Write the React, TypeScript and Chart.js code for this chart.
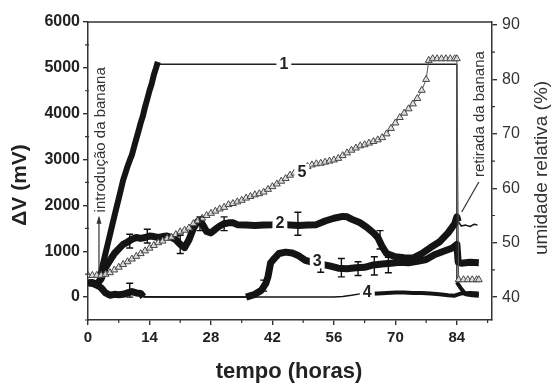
import React, { useEffect, useRef } from "react";
import { Chart, registerables } from "chart.js";
Chart.register(...registerables);

const FONT = '"Liberation Sans", Arial, Helvetica, sans-serif';

// axis ticks
const xTicks = [0, 14, 28, 42, 56, 70, 84];
const xMinorTicks = [7, 21, 35, 49, 63, 77, 91];
const yLeftTicks = [0, 1000, 2000, 3000, 4000, 5000, 6000];
const yLeftMinor = [-500, 500, 1500, 2500, 3500, 4500, 5500];
const yRightTicks = [40, 50, 60, 70, 80, 90];
const yRightMinor = [45, 55, 65, 75, 85];

// series 1 (rising, then saturated)
const s1RiseHours = [2.5, 3, 3.5, 4, 4.5, 5, 5.5, 6, 6.5, 7, 7.5, 8, 8.5, 9, 9.5, 10, 10.5, 11, 11.5, 12, 12.5, 13, 13.5, 14, 14.5, 15, 15.5, 15.9];
const s1RiseValues = [430, 560, 760, 960, 1160, 1360, 1560, 1760, 1960, 2150, 2350, 2550, 2700, 2850, 2980, 3100, 3280, 3450, 3620, 3800, 3950, 4150, 4320, 4500, 4650, 4850, 5000, 5130];
const s1SatHours = [15.9, 84, 84];
const s1SatValues = [5080, 5080, 320];
const s1AfterHours = [84, 85, 86, 87.5, 89];
const s1AfterValues = [320, 180, 60, 40, 30];

// series 2
const s2Hours = [0, 1, 2, 3, 4, 5, 6, 7, 8, 9, 10, 11, 12, 13, 14, 15, 16, 17, 18, 19, 20, 21, 22, 23, 24, 25, 26, 27, 28, 29, 30, 31, 32, 33, 34, 36, 38, 40, 42, 44, 46, 48, 50, 52, 54, 56, 58, 59, 60, 62, 63.5, 65, 66, 67, 68, 70, 72, 74, 76, 78, 80, 82, 83.5, 84, 84.3, 85, 86, 87, 88, 88.7];
const s2Values = [300, 320, 280, 400, 650, 800, 950, 1050, 1150, 1200, 1260, 1300, 1280, 1300, 1330, 1320, 1300, 1320, 1330, 1300, 1250, 1150, 1080, 1250, 1500, 1650, 1600, 1430, 1400, 1480, 1550, 1600, 1620, 1620, 1580, 1570, 1560, 1570, 1580, 1600, 1570, 1560, 1570, 1580, 1660, 1720, 1760, 1750, 1700, 1620, 1520, 1400, 1300, 1100, 950, 880, 860, 850, 950, 1080, 1200, 1400, 1600, 1750, 1650, 1550, 1570, 1540, 1590, 1570];
const s2ErrHours = [9.5, 13.5, 21, 25.5, 31, 47.8, 66.5];
const s2ErrMid = [1220, 1330, 1150, 1600, 1600, 1600, 1250];
const s2ErrHalf = [150, 150, 200, 150, 150, 250, 200];

// series 3
const s3Hours = [0, 1, 2, 3, 4, 5, 6, 7, 8, 9, 10, 11, 12, 12.6, 20, 30, 36, 38, 39.5, 40.5, 41, 41.6, 42.5, 43.5, 45, 46.5, 48, 49.5, 51, 53, 55, 57, 59, 61, 63, 65, 67, 69, 71, 73, 75, 77, 79, 81, 83, 84, 84.3, 85, 87, 89];
const s3Values = [320, 300, 260, 200, 90, 40, 60, 50, 60, 90, 120, 90, 80, 5, 0, 0, 0, 60, 150, 300, 450, 750, 850, 950, 980, 960, 900, 800, 760, 720, 680, 630, 620, 640, 650, 700, 720, 740, 760, 750, 780, 820, 930, 1000, 1070, 1150, 760, 740, 760, 750];
const s3ErrHours = [9.5, 40, 53, 57.7, 61.5, 65.2, 68.4];
const s3ErrMid = [150, 250, 720, 640, 620, 680, 700];
const s3ErrHalf = [150, 120, 180, 200, 150, 200, 170];

// series 4
const s4Hours = [12.6, 30, 56, 58, 60, 62, 63, 64, 66, 68, 70, 72, 74, 76, 78, 80, 82, 83.5, 84, 85, 87, 89];
const s4Values = [0, 0, 0, 15, 40, 70, 80, 70, 80, 90, 100, 100, 90, 90, 80, 60, 40, 30, 50, 80, 90, 80];

// series 5 (relative humidity, right axis)
const s5Hours = [0, 1, 2, 3, 4, 5, 6, 7, 8, 9, 10, 11, 12, 13, 14, 15, 16, 17, 18, 19, 20, 21, 22, 23, 24, 25, 26, 27, 28, 29, 30, 31, 32, 33, 34, 35, 36, 37, 38, 39, 40, 41, 42, 43, 44, 45, 46, 47, 48, 49, 50, 51, 52, 53, 54, 55, 56, 57, 58, 59, 60, 61, 62, 63, 64, 65, 66, 67, 68, 69, 70, 71, 72, 73, 74, 75, 76, 77, 77.6, 78.5, 79.5, 80.5, 81.5, 82.5, 83.5, 84, 84.4, 85.5, 86.5, 87.5, 88.5, 89];
const s5Values = [44, 44, 44, 44, 44.2, 44.5, 45, 45.5, 46, 46.5, 47, 47.5, 48, 48.5, 49, 49.5, 50, 50.3, 50.8, 51, 51.5, 52, 52.3, 52.7, 53.5, 54, 54.5, 55, 55.4, 55.8, 56.2, 56.5, 57, 57.2, 57.5, 57.8, 58.2, 58.5, 58.8, 59, 59.3, 59.8, 60.3, 60.8, 61.3, 61.8, 62.4, 62.8, 63.2, 63.6, 64, 64.3, 64.5, 64.6, 64.8, 65, 65.2, 65.5, 66, 66.5, 67, 67.4, 67.8, 68, 68.3, 68.6, 68.9, 69.3, 70, 71, 72, 73, 73.8, 74.6, 75.5, 76.5, 78, 80, 83.5, 83.8, 83.8, 83.8, 83.8, 83.8, 83.8, 83.8, 43.2, 43.2, 43.2, 43.2, 43.2, 43.2];

// curve number labels (hour, value, axis)
const labelTexts = ["1", "2", "3", "4", "5"];
const labelHours = [44.6, 43.7, 52.2, 63.6, 48.7];
const labelValues = [5090, 1615, 800, 110, 63.0];
const labelAxes = ["y", "y", "y", "y", "y1"];

const pts = (xs: number[], ys: number[]) => xs.map((x, i) => ({ x, y: ys[i] }));

const decorPlugin = {
  id: "decor",
  afterDatasetsDraw(chart: any) {
    const { ctx, chartArea, scales } = chart;
    const X = scales.x, Y = scales.y, Y1 = scales.y1;
    ctx.save();
    // error bars
    const drawErr = (hs: number[], ms: number[], hh: number[]) => {
      ctx.strokeStyle = "#111";
      ctx.lineWidth = 1.4;
      hs.forEach((h, i) => {
        const px = X.getPixelForValue(h);
        const top = Y.getPixelForValue(ms[i] + hh[i]);
        const bot = Y.getPixelForValue(ms[i] - hh[i]);
        ctx.beginPath();
        ctx.moveTo(px, top); ctx.lineTo(px, bot);
        ctx.moveTo(px - 3.5, top); ctx.lineTo(px + 3.5, top);
        ctx.moveTo(px - 3.5, bot); ctx.lineTo(px + 3.5, bot);
        ctx.stroke();
      });
    };
    drawErr(s2ErrHours, s2ErrMid, s2ErrHalf);
    drawErr(s3ErrHours, s3ErrMid, s3ErrHalf);

    // curve labels
    ctx.font = `bold 16px ${FONT}`;
    ctx.textAlign = "center";
    ctx.textBaseline = "middle";
    labelTexts.forEach((t, i) => {
      const sc = labelAxes[i] === "y1" ? Y1 : Y;
      const px = X.getPixelForValue(labelHours[i]);
      const py = sc.getPixelForValue(labelValues[i]);
      const w = ctx.measureText(t).width;
      ctx.fillStyle = "#ffffff";
      ctx.fillRect(px - w / 2 - 3, py - 8, w + 6, 16);
      ctx.fillStyle = "#222";
      ctx.fillText(t, px, py + 1);
    });

    // annotation: introdução da banana
    const ax = X.getPixelForValue(2.5);
    const a0 = Y.getPixelForValue(520);
    const a1 = Y.getPixelForValue(1730);
    ctx.strokeStyle = "#333";
    ctx.lineWidth = 1.2;
    ctx.beginPath();
    ctx.moveTo(ax, a0); ctx.lineTo(ax, a1);
    ctx.stroke();
    ctx.fillStyle = "#333";
    ctx.beginPath();
    ctx.moveTo(ax, a1 - 2); ctx.lineTo(ax - 2.5, a1 + 6); ctx.lineTo(ax + 2.5, a1 + 6); ctx.closePath();
    ctx.fill();

    ctx.font = `15px ${FONT}`;
    ctx.fillStyle = "#333";
    ctx.save();
    ctx.translate(X.getPixelForValue(2.85), Y.getPixelForValue(3430));
    ctx.rotate(-Math.PI / 2);
    ctx.fillText("introdução da banana", 0, 0);
    ctx.restore();

    // annotation: retirada da banana
    ctx.beginPath();
    ctx.moveTo(X.getPixelForValue(89), Y.getPixelForValue(2510));
    ctx.lineTo(X.getPixelForValue(85.1), Y.getPixelForValue(1855));
    ctx.stroke();
    ctx.save();
    ctx.translate(X.getPixelForValue(89.3), Y.getPixelForValue(3990));
    ctx.rotate(-Math.PI / 2);
    ctx.fillText("retirada da banana", 0, 0);
    ctx.restore();

    // frame top line
    ctx.strokeStyle = "#333";
    ctx.lineWidth = 1.5;
    ctx.beginPath();
    ctx.moveTo(chartArea.left, chartArea.top);
    ctx.lineTo(chartArea.right, chartArea.top);
    ctx.stroke();

    // minor ticks
    ctx.lineWidth = 1.2;
    ctx.beginPath();
    xMinorTicks.forEach((v) => {
      const px = X.getPixelForValue(v);
      ctx.moveTo(px, chartArea.bottom - 1); ctx.lineTo(px, chartArea.bottom + 3);
    });
    yLeftMinor.forEach((v) => {
      const py = Y.getPixelForValue(v);
      ctx.moveTo(chartArea.left - 3, py); ctx.lineTo(chartArea.left + 1, py);
    });
    yRightMinor.forEach((v) => {
      const py = Y1.getPixelForValue(v);
      ctx.moveTo(chartArea.right - 1, py); ctx.lineTo(chartArea.right + 3, py);
    });
    ctx.stroke();

    // axis titles
    ctx.fillStyle = "#222";
    ctx.font = `bold 21px ${FONT}`;
    ctx.save();
    ctx.translate(20, 185);
    ctx.rotate(-Math.PI / 2);
    ctx.fillText("ΔV (mV)", 0, 0);
    ctx.restore();

    ctx.font = `19px ${FONT}`;
    ctx.fillStyle = "#333";
    ctx.save();
    ctx.translate(542, 168);
    ctx.rotate(-Math.PI / 2);
    ctx.fillText("umidade relativa (%)", 0, 0);
    ctx.restore();

    ctx.font = `bold 22px ${FONT}`;
    ctx.fillStyle = "#222";
    ctx.fillText("tempo (horas)", 289, 372);
    ctx.restore();
  },
};

const plain = (v: any) => String(v);

export default function App() {
  const ref = useRef<HTMLCanvasElement | null>(null);
  useEffect(() => {
    if (!ref.current) return;
    const black = "#141414";
    const chart = new Chart(ref.current, {
      type: "line",
      data: {
        datasets: [
          {
            label: "5",
            data: pts(s5Hours, s5Values),
            yAxisID: "y1",
            borderColor: "#555",
            borderWidth: 1,
            pointStyle: "triangle",
            pointRadius: 4,
            pointBorderWidth: 1,
            pointBorderColor: "#444",
            pointBackgroundColor: "rgba(225,225,225,0.9)",
            order: 0,
          },
          {
            label: "1",
            data: pts(s1RiseHours, s1RiseValues),
            yAxisID: "y",
            borderColor: black,
            borderWidth: 6,
            pointRadius: 0,
            order: 1,
          },
          {
            label: "1b",
            data: pts(s1SatHours, s1SatValues),
            yAxisID: "y",
            borderColor: "#222",
            borderWidth: 1.4,
            pointRadius: 0,
            order: 1,
          },
          {
            label: "1c",
            data: pts(s1AfterHours, s1AfterValues),
            yAxisID: "y",
            borderColor: black,
            borderWidth: 4,
            pointRadius: 0,
            order: 1,
          },
          {
            label: "2",
            data: pts(s2Hours, s2Values),
            yAxisID: "y",
            borderColor: black,
            borderWidth: 7,
            pointRadius: 0,
            segment: { borderWidth: (c: any) => (c.p0.parsed.x >= 84.1 ? 1.5 : 7) },
            order: 2,
          },
          {
            label: "3",
            data: pts(s3Hours, s3Values),
            yAxisID: "y",
            borderColor: black,
            borderWidth: 7,
            pointRadius: 0,
            segment: {
              borderWidth: (c: any) =>
                Math.abs(c.p0.parsed.y) < 15 && Math.abs(c.p1.parsed.y) < 15 ? 1.5 : 7,
            },
            order: 3,
          },
          {
            label: "4",
            data: pts(s4Hours, s4Values),
            yAxisID: "y",
            borderColor: black,
            borderWidth: 4,
            pointRadius: 0,
            segment: { borderWidth: (c: any) => (c.p1.parsed.x <= 63 ? 1.5 : 4) },
            order: 4,
          },
        ],
      },
      options: {
        animation: false,
        responsive: false,
        maintainAspectRatio: false,
        devicePixelRatio: 1,
        layout: { padding: { top: 22, left: 0, right: 0, bottom: 0 } },
        plugins: { legend: { display: false }, tooltip: { enabled: false }, title: { display: false } },
        elements: { line: { tension: 0, borderJoinStyle: "round", borderCapStyle: "butt" } },
        scales: {
          x: {
            type: "linear",
            position: "bottom",
            min: 0,
            max: 92,
            afterBuildTicks: (s: any) => { s.ticks = xTicks.map((v) => ({ value: v })); },
            afterFit: (s: any) => { s.height = 63; },
            ticks: { autoSkip: false, maxRotation: 0, padding: 4, color: "#222", callback: plain, font: { family: FONT, size: 15, weight: "bold" } },
            grid: { drawOnChartArea: false, drawTicks: true, tickLength: 5, color: "#333", lineWidth: 1.4 },
            border: { display: true, color: "#333", width: 1.5 },
          },
          y: {
            type: "linear",
            position: "left",
            min: -500,
            max: 6000,
            afterBuildTicks: (s: any) => { s.ticks = yLeftTicks.map((v) => ({ value: v })); },
            afterFit: (s: any) => { s.width = 88; },
            ticks: { autoSkip: false, padding: 3, color: "#222", callback: plain, font: { family: FONT, size: 16, weight: "bold" } },
            grid: { drawOnChartArea: false, drawTicks: true, tickLength: 5, color: "#333", lineWidth: 1.4 },
            border: { display: true, color: "#333", width: 1.5 },
          },
          y1: {
            type: "linear",
            position: "right",
            min: 35.8,
            max: 90.55,
            afterBuildTicks: (s: any) => { s.ticks = yRightTicks.map((v) => ({ value: v })); },
            afterFit: (s: any) => { s.width = 61; },
            ticks: { autoSkip: false, padding: 5, color: "#333", callback: plain, font: { family: FONT, size: 16, weight: "normal" } },
            grid: { drawOnChartArea: false, drawTicks: true, tickLength: 5, color: "#333", lineWidth: 1.4 },
            border: { display: true, color: "#333", width: 1.5 },
          },
        },
      },
      plugins: [decorPlugin],
    } as any);
    return () => chart.destroy();
  }, []);
  return (
    <canvas
      ref={ref}
      width={553}
      height={383}
      style={{ position: "absolute", left: 0, top: 0, width: 553, height: 383, background: "#fff" }}
    />
  );
}
